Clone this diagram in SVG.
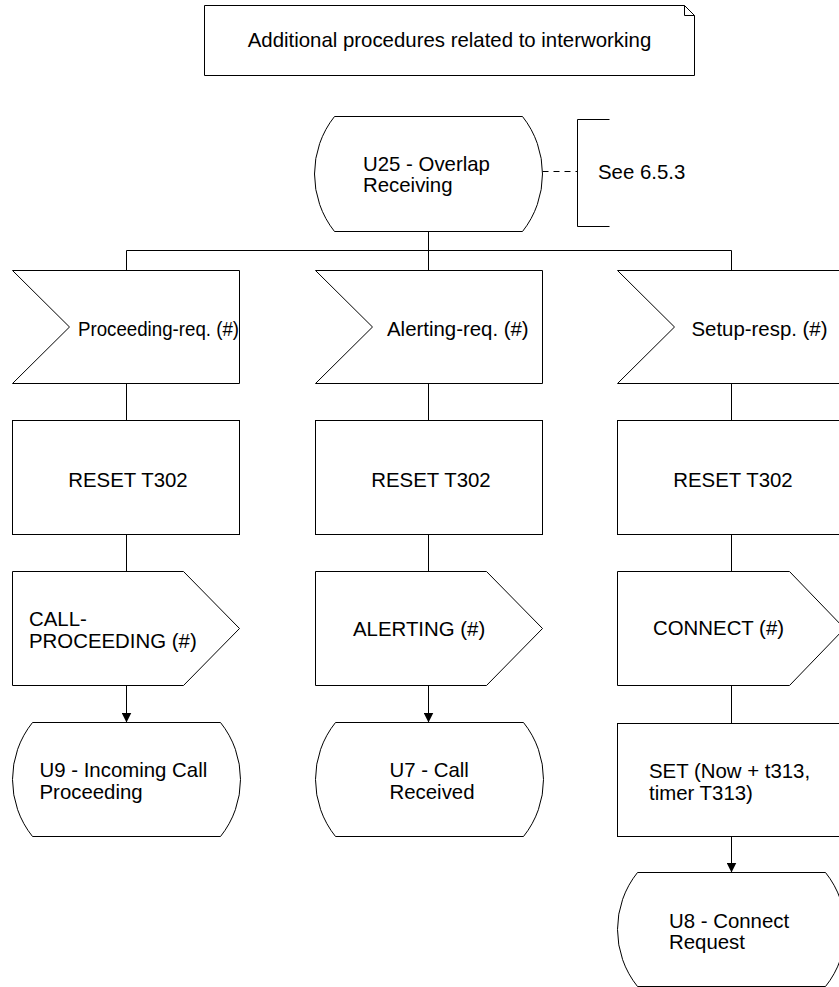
<svg xmlns="http://www.w3.org/2000/svg" width="839" height="987" viewBox="0 0 839 987">
<defs>
<style>
.s{fill:#fff;stroke:#000;stroke-width:1}
.c{fill:none;stroke:#000;stroke-width:1}
.t{font-family:"Liberation Sans",Arial,sans-serif;font-size:20.4px;fill:#000}
.m{text-anchor:middle}
</style>
<marker id="arr" markerUnits="userSpaceOnUse" markerWidth="10" markerHeight="10" refX="10" refY="5" orient="auto">
<path d="M0,0 L10,5 L0,10 Z" fill="#000"/>
</marker>
</defs>
<rect width="839" height="987" fill="#fff"/>

<g id="connectors">
<path class="c" d="M126.5,270.5 V250.5 H731.5 V270.5 M428.5,231.5 V270.5"/>
<path class="c" d="M126.5,383.5 V420.5 M428.5,383.5 V420.5 M731.5,383.5 V420.5"/>
<path class="c" d="M126.5,534.5 V571.5 M428.5,534.5 V571.5 M731.5,534.5 V571.5"/>
<path class="c" d="M126.5,685.5 V722.5" marker-end="url(#arr)"/>
<path class="c" d="M428.5,685.5 V722.5" marker-end="url(#arr)"/>
<path class="c" d="M731.5,685.5 V723.5"/>
<path class="c" d="M731.5,836.5 V872.5" marker-end="url(#arr)"/>
<path class="c" d="M542.5,171.5 H577.5" stroke-dasharray="6 5"/>
</g>

<g id="note">
<path class="s" d="M204.5,5.5 H684.5 L694.5,15.5 V75.5 H204.5 Z"/>
<path class="c" d="M684.5,5.5 V15.5 H694.5"/>
<text class="t m" x="449.5" y="47">Additional procedures related to interworking</text>
</g>

<g id="U25">
<path class="s" d="M334.5,116.5 H522.5 A92.66,92.66 0 0 1 522.5,231.5 H334.5 A92.66,92.66 0 0 1 334.5,116.5 Z"/>
<text class="t" x="363" y="170.5">U25 - Overlap</text>
<text class="t" x="363" y="192">Receiving</text>
</g>

<g id="comment">
<path class="c" d="M609.5,119.5 H577.5 V226.5 H609.5"/>
<text class="t" x="598" y="179">See 6.5.3</text>
</g>

<g id="in1">
<polygon class="s" points="12.5,270.5 239.5,270.5 239.5,383.5 12.5,383.5 69.5,327"/>
<text class="t" x="78" y="336" textLength="161" lengthAdjust="spacingAndGlyphs">Proceeding-req. (#)</text>
</g>
<g id="in2">
<polygon class="s" points="315.5,270.5 542.5,270.5 542.5,383.5 315.5,383.5 372.5,327"/>
<text class="t" x="387" y="336">Alerting-req. (#)</text>
</g>
<g id="in3">
<polygon class="s" points="617.5,270.5 844.5,270.5 844.5,383.5 617.5,383.5 674.5,327"/>
<text class="t" x="691.5" y="336">Setup-resp. (#)</text>
</g>

<g id="task1">
<rect class="s" x="12.5" y="420.5" width="227" height="114"/>
<text class="t m" x="128" y="487">RESET T302</text>
</g>
<g id="task2">
<rect class="s" x="315.5" y="420.5" width="227" height="114"/>
<text class="t m" x="431" y="487">RESET T302</text>
</g>
<g id="task3">
<rect class="s" x="617.5" y="420.5" width="227" height="114"/>
<text class="t m" x="733" y="487">RESET T302</text>
</g>

<g id="out1">
<polygon class="s" points="12.5,571.5 183.5,571.5 239.5,628.5 183.5,685.5 12.5,685.5"/>
<text class="t" x="29" y="626">CALL-</text>
<text class="t" x="29" y="647.5">PROCEEDING (#)</text>
</g>
<g id="out2">
<polygon class="s" points="315.5,571.5 486.5,571.5 542.5,628.5 486.5,685.5 315.5,685.5"/>
<text class="t" x="353" y="636">ALERTING (#)</text>
</g>
<g id="out3">
<polygon class="s" points="617.5,571.5 789.5,571.5 844.5,628.5 789.5,685.5 617.5,685.5"/>
<text class="t" x="653" y="635">CONNECT (#)</text>
</g>

<g id="U9">
<path class="s" d="M32.5,722.5 H220.5 A91.2,91.2 0 0 1 220.5,836.5 H32.5 A91.2,91.2 0 0 1 32.5,722.5 Z"/>
<text class="t" x="39.5" y="777">U9 - Incoming Call</text>
<text class="t" x="39.5" y="799">Proceeding</text>
</g>
<g id="U7">
<path class="s" d="M335.5,722.5 H523.5 A91.2,91.2 0 0 1 523.5,836.5 H335.5 A91.2,91.2 0 0 1 335.5,722.5 Z"/>
<text class="t" x="389.5" y="777">U7 - Call</text>
<text class="t" x="389.5" y="799">Received</text>
</g>

<g id="set3">
<rect class="s" x="617.5" y="723.5" width="227" height="113"/>
<text class="t" x="649" y="778">SET (Now + t313,</text>
<text class="t" x="649" y="800">timer T313)</text>
</g>

<g id="U8">
<path class="s" d="M637.5,872.5 H825.5 A91.2,91.2 0 0 1 825.5,986.5 H637.5 A91.2,91.2 0 0 1 637.5,872.5 Z"/>
<text class="t" x="669" y="928">U8 - Connect</text>
<text class="t" x="669" y="949">Request</text>
</g>
</svg>
